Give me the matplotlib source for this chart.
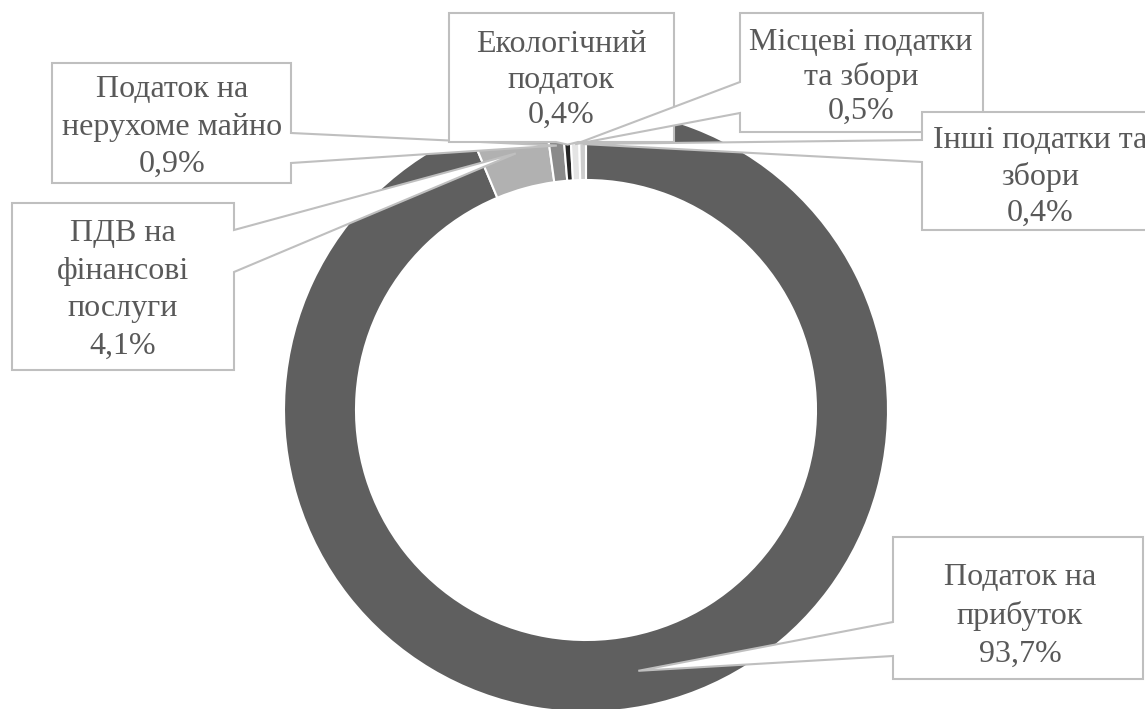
import matplotlib
matplotlib.use("Agg")
import matplotlib.pyplot as plt
from matplotlib.patches import Polygon
import numpy as np

# дані
names = ["Податок на\nприбуток", "ПДВ на\nфінансові\nпослуги", "Податок на\nнерухоме майно",
         "Екологічний\nподаток", "Місцеві податки\nта збори", "Інші податки та\nзбори"]
shares = [93.7, 4.1, 0.9, 0.4, 0.5, 0.4]
colors = ["#5f5f5f", "#b1b1b1", "#8a8a8a", "#262626", "#e4e4e4", "#cdcdcd"]

W, H = 1145, 709
cx, cy, R, ring = 586, 410, 302, 72

# розташування підписів: бокс (x0, y0, x1, y1), сторона виноски, основа виноски, центр тексту
boxes = [
    ((893, 537, 1143, 679), "left", (622, 656), (1020, 616)),
    ((12, 203, 234, 370), "right", (230, 272), (123, 290)),
    ((52, 63, 291, 183), "right", (133, 163), (172, 127)),
    ((449, 13, 674, 142), "bottom", (556, 578), (561, 80)),
    ((740, 13, 983, 132), "left", (82, 113), (861, 77)),
    ((922, 112, 1170, 230), "left", (140, 162), (1040, 177)),
]
spacing = [1.38, 1.38, 1.38, 1.3, 1.22, 1.32]

plt.rcParams["font.family"] = ["Liberation Serif", "DejaVu Serif"]

fig = plt.figure(figsize=(W / 100, H / 100), dpi=100)
ax = fig.add_axes([0, 0, 1, 1])

wedges, _ = ax.pie(shares, colors=colors, startangle=90, counterclock=False,
                   radius=R, center=(cx, H - cy),
                   wedgeprops=dict(width=ring, edgecolor="white", linewidth=1.5))

ax.set_xlim(0, W)
ax.set_ylim(0, H)
ax.set_aspect("auto")
ax.axis("off")

# точка прив'язки виноски — середина сегмента
mid_r = R - ring / 2
cum = np.cumsum([0] + shares[:-1])
for i, (name, v) in enumerate(zip(names, shares)):
    ang = np.deg2rad((cum[i] + v / 2) / 100 * 360)
    tx, ty = cx + mid_r * np.sin(ang), cy - mid_r * np.cos(ang)
    (x0, y0, x1, y1), side, (b0, b1), (lx, ly) = boxes[i]
    if side == "left":
        pts = [(x0, y0), (x1, y0), (x1, y1), (x0, y1), (x0, b1), (tx, ty), (x0, b0)]
    elif side == "right":
        pts = [(x0, y0), (x1, y0), (x1, b0), (tx, ty), (x1, b1), (x1, y1), (x0, y1)]
    else:
        pts = [(x0, y0), (x1, y0), (x1, y1), (b1, y1), (tx, ty), (b0, y1), (x0, y1)]
    pts = [(px, H - py) for px, py in pts]
    ax.add_patch(Polygon(pts, closed=True, facecolor="white", edgecolor="#bfbfbf",
                         linewidth=1.5, zorder=3 + i, clip_on=False))
    label = name + "\n" + f"{v:.1f}".replace(".", ",") + "%"
    ax.text(lx, H - ly, label, ha="center", va="center", fontsize=23,
            color="#595959", linespacing=spacing[i], zorder=3.5 + i)

plt.savefig("out.png", dpi=100)
